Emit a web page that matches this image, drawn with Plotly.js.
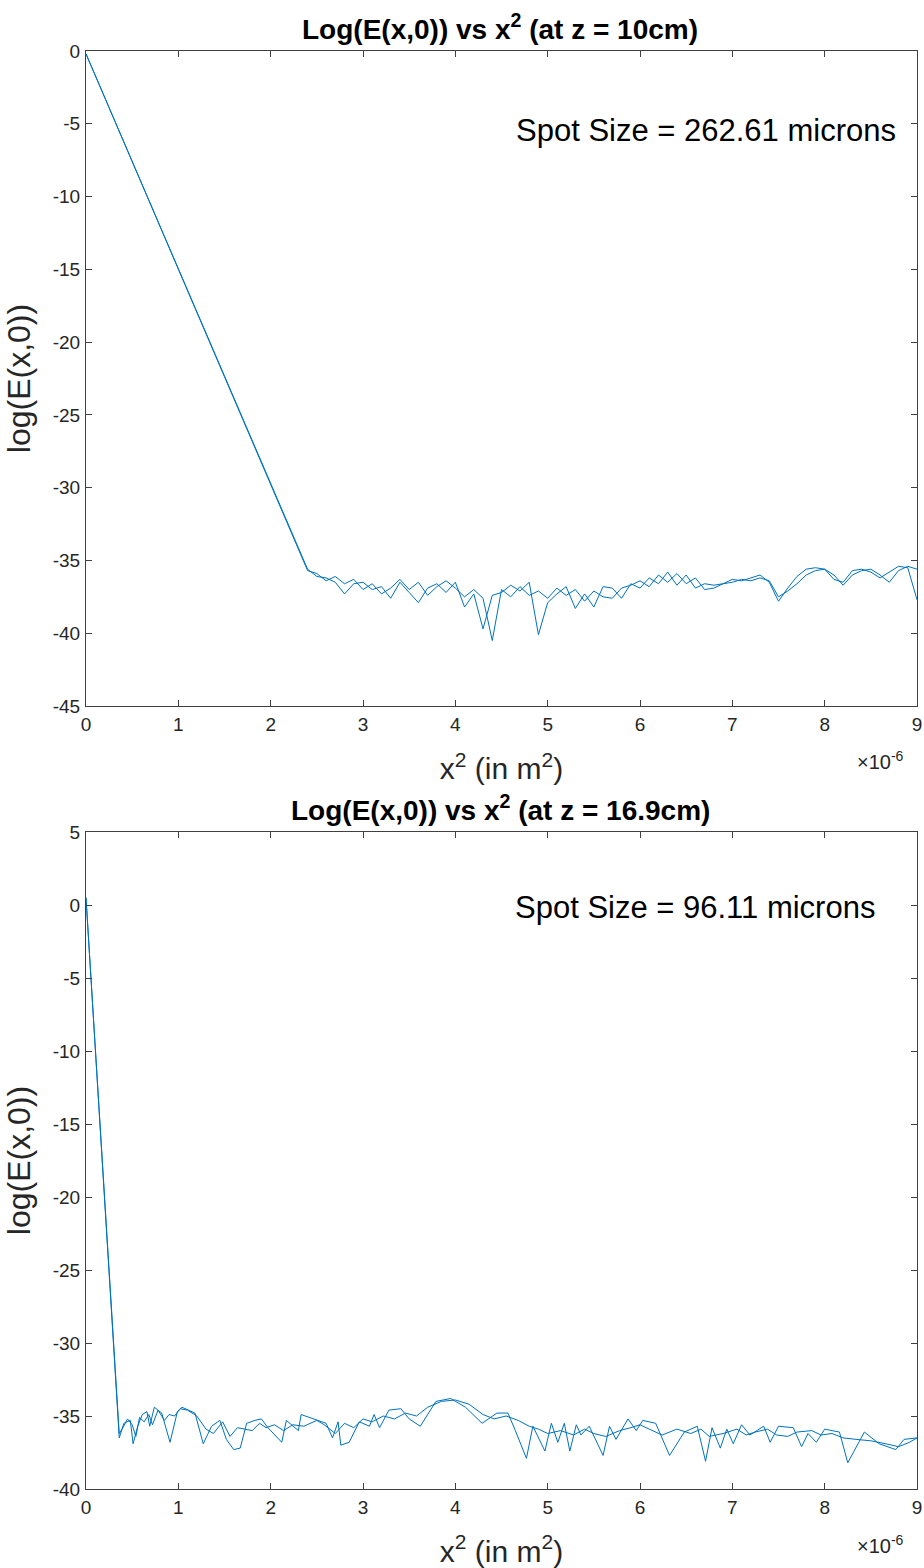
<!DOCTYPE html>
<html>
<head>
<meta charset="utf-8">
<script src="https://cdn.plot.ly/plotly-3.0.1.min.js"></script>
<style>
  html, body { margin: 0; padding: 0; background: #fff; }
  #chart { width: 924px; height: 1568px; }
</style>
</head>
<body>
<div id="chart"></div>
<script>
// ---- data (x^2 in units of 1e-6 m^2) ----
const topX = [0,2.4,2.5,2.6,2.7,2.8,2.9,3.0,3.1,3.2,3.3,3.4,3.5,3.6,3.7,3.8,3.9,4.0,4.1,4.2,4.3,4.4,4.5,4.6,4.7,4.8,4.9,5.0,5.1,5.2,5.3,5.4,5.5,5.6,5.7,5.8,5.9,6.0,6.1,6.2,6.3,6.4,6.5,6.6,6.7,6.8,6.9,7.0,7.1,7.2,7.3,7.4,7.5,7.6,7.7,7.8,7.9,8.0,8.1,8.2,8.3,8.4,8.5,8.6,8.7,8.8,8.9,9.0];
const topLogE_A = [-0.2,-35.6,-36.1,-36.2,-36.5,-37.3,-36.6,-36.5,-37.0,-36.8,-37.6,-36.5,-37.2,-37.9,-36.9,-36.6,-37.2,-36.5,-38.2,-37.3,-39.7,-37.4,-37.2,-36.7,-37.1,-36.5,-40.1,-37.9,-37.3,-36.8,-38.3,-37.3,-38.2,-36.8,-36.9,-37.6,-36.6,-36.9,-36.2,-36.6,-35.8,-36.7,-36.0,-36.9,-36.6,-36.7,-36.6,-36.3,-36.4,-36.2,-36.0,-36.5,-37.8,-36.9,-36.1,-35.6,-35.5,-35.6,-36.3,-36.5,-35.7,-35.6,-35.8,-36.2,-35.8,-35.4,-35.5,-37.7];
const topLogE_B = [-0.2,-35.7,-35.9,-36.4,-36.1,-36.6,-36.3,-37.0,-36.6,-37.3,-36.9,-36.3,-37.0,-36.5,-37.4,-36.8,-36.4,-36.9,-37.5,-37.0,-37.6,-40.5,-37.0,-37.5,-36.8,-37.4,-37.1,-37.6,-36.9,-37.4,-37.0,-37.8,-37.1,-37.5,-37.6,-36.9,-36.7,-36.4,-36.8,-36.0,-36.5,-35.9,-36.6,-36.2,-37.0,-36.9,-36.6,-36.5,-36.3,-36.4,-36.2,-36.4,-37.5,-37.1,-36.6,-36.0,-35.7,-35.6,-36.0,-36.7,-36.0,-35.7,-35.6,-36.0,-36.5,-35.7,-35.4,-35.6];

const botX_A = [0,0.36,0.41,0.48,0.51,0.56,0.61,0.66,0.69,0.74,0.82,0.91,0.99,1.04,1.18,1.27,1.36,1.45,1.52,1.60,1.67,1.74,1.83,1.90,1.97,2.12,2.17,2.30,2.33,2.46,2.60,2.67,2.73,2.76,2.85,2.96,3.07,3.12,3.18,3.28,3.41,3.50,3.62,3.79,3.95,4.11,4.29,4.45,4.57,4.65,4.77,4.84,4.97,5.04,5.11,5.18,5.24,5.31,5.36,5.45,5.53,5.60,5.67,5.74,5.87,5.96,6.03,6.17,6.32,6.48,6.62,6.71,6.78,6.87,6.94,7.01,7.10,7.19,7.34,7.41,7.50,7.66,7.75,7.82,7.91,8.00,8.16,8.25,8.43,8.59,8.77,8.86,9.0];
const botLogE_A = [0.5,-36.5,-35.5,-35.3,-36.9,-35.7,-34.9,-34.7,-35.7,-34.4,-34.8,-36.8,-34.7,-34.4,-34.8,-36.9,-35.7,-35.3,-36.6,-37.3,-37.2,-35.5,-35.3,-35.2,-35.8,-36.8,-35.3,-36.0,-34.9,-35.2,-35.5,-36.5,-35.4,-37.0,-36.8,-35.4,-35.7,-34.9,-35.8,-34.6,-34.5,-35.2,-35.7,-34.0,-33.8,-34.4,-35.5,-34.8,-34.8,-36.0,-37.9,-35.7,-37.4,-35.5,-36.8,-35.5,-37.4,-35.6,-36.3,-35.7,-36.8,-37.7,-35.7,-36.6,-35.2,-36.0,-35.3,-35.5,-37.7,-36.1,-35.7,-38.1,-35.8,-37.2,-35.9,-36.9,-35.6,-36.3,-35.7,-36.8,-35.7,-35.8,-37.1,-36.2,-36.8,-35.9,-36.1,-38.2,-36.1,-36.9,-37.3,-36.6,-36.5];
const botX_B = [0,0.36,0.40,0.45,0.50,0.54,0.58,0.63,0.68,0.72,0.78,0.85,0.90,0.96,1.02,1.10,1.20,1.30,1.38,1.48,1.56,1.64,1.72,1.80,1.88,1.95,2.04,2.14,2.24,2.36,2.50,2.58,2.70,2.80,2.90,3.00,3.10,3.22,3.34,3.46,3.58,3.70,3.85,4.00,4.15,4.30,4.42,4.55,4.68,4.80,4.90,5.00,5.14,5.28,5.40,5.50,5.63,5.78,5.90,6.00,6.10,6.24,6.40,6.55,6.66,6.75,6.90,7.05,7.15,7.25,7.38,7.48,7.60,7.70,7.86,7.96,8.08,8.20,8.34,8.50,8.66,8.80,8.92,9.0];
const botLogE_B = [0.5,-36.2,-35.8,-35.2,-35.6,-36.4,-35.1,-35.4,-34.9,-35.6,-34.6,-35.3,-34.9,-35.0,-34.5,-34.6,-35.0,-35.9,-36.2,-35.4,-36.4,-35.8,-35.9,-36.0,-35.5,-35.8,-35.6,-36.0,-35.6,-35.7,-35.3,-35.6,-36.2,-35.5,-35.8,-35.2,-35.4,-35.0,-35.2,-34.8,-35.0,-34.4,-34.0,-33.9,-34.2,-34.9,-35.2,-35.0,-35.3,-35.7,-35.9,-36.2,-36.0,-36.3,-35.9,-36.2,-36.4,-36.0,-35.8,-35.6,-35.9,-36.3,-35.9,-36.2,-35.9,-36.4,-36.2,-35.9,-36.3,-36.1,-35.9,-36.3,-36.4,-36.1,-36.0,-36.3,-36.2,-36.5,-36.6,-36.7,-36.9,-37.1,-36.8,-36.5];

const titles = ["Log(E(x,0)) vs x<sup>2</sup> (at z = 10cm)", "Log(E(x,0)) vs x<sup>2</sup> (at z = 16.9cm)"];
const spotLabels = ["Spot Size = 262.61 microns", "Spot Size = 96.11 microns"];
const xTitle = "x<sup>2</sup> (in m<sup>2</sup>)";
const yTitle = "log(E(x,0))";
const xTickVals = [0,1,2,3,4,5,6,7,8,9];
const topYTickVals = [0,-5,-10,-15,-20,-25,-30,-35,-40,-45];
const botYTickVals = [5,0,-5,-10,-15,-20,-25,-30,-35,-40];

// ---- styling ----
const FONT = "Liberation Sans, Arial, Helvetica, sans-serif";
const LINE = {color: "#0072BD", width: 1};
const AX = "#404040";
const L = 86, R = 7, T = 51, B = 79;
const W = 924 - L - R, H = 1568 - T - B;

function line(x, y, xa, ya) {
  return {x: x, y: y, xaxis: xa, yaxis: ya, type: "scatter", mode: "lines", line: LINE, showlegend: false, hoverinfo: "skip"};
}

const data = [
  line(topX, topLogE_A, "x", "y"),
  line(topX, topLogE_B, "x", "y"),
  line(botX_A, botLogE_A, "x2", "y2"),
  line(botX_B, botLogE_B, "x2", "y2")
];

function xaxis(anchor) {
  return {
    anchor: anchor, range: [0, 9], tickvals: xTickVals, ticktext: xTickVals.map(String),
    showgrid: false, zeroline: false, showline: true, mirror: "ticks", linecolor: AX, linewidth: 1,
    ticks: "inside", ticklen: 6, tickcolor: AX, ticklabelstandoff: 1, ticklabeloverflow: "allow",
    tickfont: {family: FONT, size: 19, color: "#262626"},
    title: {text: xTitle, font: {family: FONT, size: 30, color: "#262626"}, standoff: 24}
  };
}
function yaxis(anchor, domain, range, vals) {
  return {
    anchor: anchor, domain: domain, range: range, tickvals: vals, ticktext: vals.map(String),
    showgrid: false, zeroline: false, showline: true, mirror: "ticks", linecolor: AX, linewidth: 1,
    ticks: "inside", ticklen: 6, tickcolor: AX, ticklabelstandoff: 1, ticklabeloverflow: "allow",
    tickfont: {family: FONT, size: 19, color: "#262626"},
    title: {text: yTitle, font: {family: FONT, size: 32, color: "#262626"}, standoff: 12}
  };
}

const layout = {
  width: 924, height: 1568,
  margin: {l: L, r: R, t: T, b: B},
  paper_bgcolor: "#fff", plot_bgcolor: "#fff",
  font: {family: FONT, color: "#262626"},
  xaxis: xaxis("y"),
  yaxis: yaxis("x", [1 - (706 - T) / H, 1], [-45, 0], topYTickVals),
  xaxis2: xaxis("y2"),
  yaxis2: yaxis("x2", [0, 1 - (832 - T) / H], [-40, 5], botYTickVals),
  annotations: [
    {text: "<b>" + titles[0] + "</b>", xref: "paper", yref: "paper", x: (500 - L) / W, y: 1 - (27 - T) / H, xanchor: "center", yanchor: "middle", showarrow: false, font: {family: FONT, size: 28, color: "#000"}},
    {text: "<b>" + titles[1] + "</b>", xref: "paper", yref: "paper", x: (500 - L) / W, y: 1 - (808 - T) / H, xanchor: "center", yanchor: "middle", showarrow: false, font: {family: FONT, size: 28, color: "#000"}},
    {text: spotLabels[0], xref: "x", yref: "y", x: 6.71, y: -5.43, xanchor: "center", yanchor: "middle", showarrow: false, font: {family: FONT, size: 31, color: "#000"}},
    {text: spotLabels[1], xref: "x2", yref: "y2", x: 6.6, y: -0.14, xanchor: "center", yanchor: "middle", showarrow: false, font: {family: FONT, size: 31, color: "#000"}},
    {text: "×10<sup>-6</sup>", xref: "paper", yref: "paper", x: (906 - L) / W, y: 1 - (761 - T) / H, xanchor: "right", yanchor: "middle", showarrow: false, font: {family: FONT, size: 20, color: "#262626"}},
    {text: "×10<sup>-6</sup>", xref: "paper", yref: "paper", x: (906 - L) / W, y: 1 - (1544 - T) / H, xanchor: "right", yanchor: "middle", showarrow: false, font: {family: FONT, size: 20, color: "#262626"}}
  ]
};

Plotly.newPlot("chart", data, layout, {displayModeBar: false, staticPlot: true});
</script>
</body>
</html>
